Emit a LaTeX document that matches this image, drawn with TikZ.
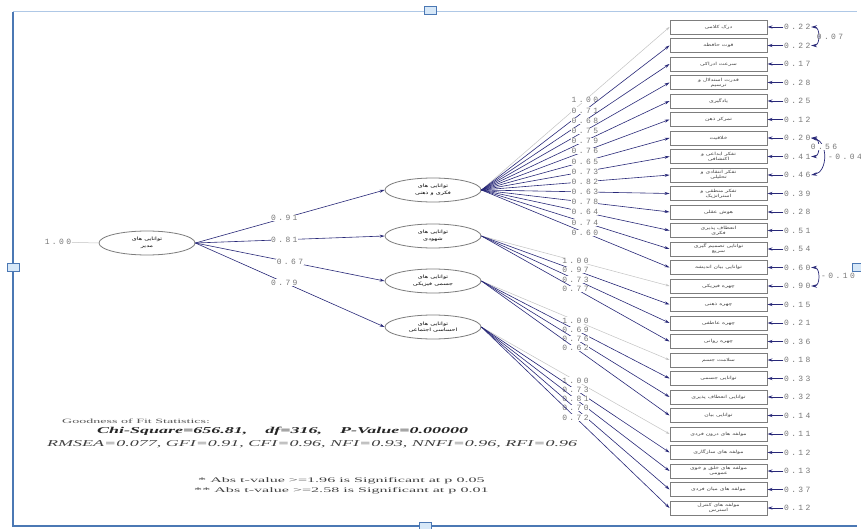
\documentclass[tikz,border=0pt]{standalone}
\usepackage{fontspec}
\setmainfont{Liberation Serif}
\newfontfamily\fa[Script=Arabic]{DejaVu Sans}
\newfontfamily\numfont[LetterSpace=30]{Liberation Mono}
\TeXXeTstate=1
\usetikzlibrary{arrows.meta,shapes.geometric}
\newcommand\rl[1]{\scalebox{1.4}[1]{\beginR#1\endR}}
\newcommand\wx[2]{\scalebox{#1}[1]{#2}}
\definecolor{navy}{RGB}{40,40,120}
\definecolor{boxgray}{RGB}{125,125,125}
\definecolor{numgray}{RGB}{120,120,120}
\definecolor{lightln}{RGB}{195,195,195}
\definecolor{frameblue}{RGB}{75,120,180}
\definecolor{framelight}{RGB}{175,200,230}
\definecolor{handlefill}{RGB}{215,232,248}
\begin{document}
\begin{tikzpicture}[x=1pt,y=-1pt,
  obs/.style={draw=boxgray,line width=0.9pt,minimum width=97pt,minimum height=14pt,inner sep=0.5pt,align=center,text=black!75,font=\fa\fontsize{4.3}{5}\selectfont},
  lat/.style={ellipse,draw=boxgray,line width=0.8pt,minimum width=96pt,minimum height=24pt,inner sep=0pt,align=center,font=\fa\fontsize{4.6}{6.5}\selectfont},
  num/.style={font=\numfont\fontsize{8}{9}\selectfont,text=numgray,inner sep=0.4pt},
  lnum/.style={num,fill=white},
  ld/.style={draw=navy,line width=0.6pt,-{Stealth[length=5pt,width=3pt]}},
  fx/.style={draw=lightln,line width=0.5pt,-{Stealth[length=4pt,width=2.5pt]}},
  ea/.style={draw=navy,line width=0.9pt,-{Stealth[length=5pt,width=3.2pt]}},
  cv/.style={draw=navy,line width=0.7pt,{Stealth[length=6pt,width=3.5pt]}-{Stealth[length=6pt,width=3.5pt]}},
  stat/.style={anchor=west,inner sep=0pt,text=black!75},
  handle/.style={draw=frameblue,fill=handlefill,line width=0.6pt,minimum width=12pt,minimum height=8pt,inner sep=0pt}]
\useasboundingbox (0,0) rectangle (861,529);
\fill[white] (0,0) rectangle (861,529);
% frame
\draw[framelight,line width=1pt] (13,12) -- (857,12);
\draw[frameblue,line width=1.5pt] (13,12) -- (13,526) -- (857,526);
\node[handle] (h1) at (13,267) {};
\node[handle] (h2) at (430,10) {};
\node[handle] (h3) at (425,526) {};
\node[handle] (h4) at (858,267) {};
% latent variables
\node[lat] (R) at (147,243) {\rl{توانایی های}\\\rl{مدیر}};
\node[lat] (L1) at (433,190) {\rl{توانایی های}\\\rl{فکری و ذهنی}};
\node[lat] (L2) at (433,236) {\rl{توانایی های}\\\rl{شهودی}};
\node[lat] (L3) at (433,281) {\rl{توانایی های}\\\rl{جسمی فیزیکی}};
\node[lat] (L4) at (433,327) {\rl{توانایی های}\\\rl{احساسی اجتماعی}};
\node[num] (one) at (58,242) {1.00};
\draw[draw=lightln,line width=0.5pt] (one) -- (R.west);
% observed boxes
\node[obs] (b1) at (718.5,27) {\rl{درک کلامی}};
\node[obs] (b2) at (718.5,45.5) {\rl{قوت حافظه}};
\node[obs] (b3) at (718.5,64) {\rl{سرعت ادراکی}};
\node[obs] (b4) at (718.5,82.5) {\rl{قدرت استدلال و}\\\rl{ترسیم}};
\node[obs] (b5) at (718.5,101) {\rl{یادگیری}};
\node[obs] (b6) at (718.5,119.5) {\rl{تمرکز ذهن}};
\node[obs] (b7) at (718.5,138) {\rl{خلاقیت}};
\node[obs] (b8) at (718.5,156.5) {\rl{تفکر ابداعی و}\\\rl{اکتشافی}};
\node[obs] (b9) at (718.5,175) {\rl{تفکر انتقادی و}\\\rl{تحلیلی}};
\node[obs] (b10) at (718.5,193.5) {\rl{تفکر منطقی و}\\\rl{استراتژیک}};
\node[obs] (b11) at (718.5,212) {\rl{هوش عقلی}};
\node[obs] (b12) at (718.5,230.5) {\rl{انعطاف پذیری}\\\rl{فکری}};
\node[obs] (b13) at (718.5,249) {\rl{توانایی تصمیم گیری}\\\rl{سریع}};
\node[obs] (b14) at (718.5,267.5) {\rl{توانایی بیان اندیشه}};
\node[obs] (b15) at (718.5,286) {\rl{چهره فیزیکی}};
\node[obs] (b16) at (718.5,304.5) {\rl{چهره ذهنی}};
\node[obs] (b17) at (718.5,323) {\rl{چهره عاطفی}};
\node[obs] (b18) at (718.5,341.5) {\rl{چهره روانی}};
\node[obs] (b19) at (718.5,360) {\rl{سلامت جسم}};
\node[obs] (b20) at (718.5,378.5) {\rl{توانایی جسمی}};
\node[obs] (b21) at (718.5,397) {\rl{توانایی انعطاف پذیری}};
\node[obs] (b22) at (718.5,415.5) {\rl{توانایی بیان}};
\node[obs] (b23) at (718.5,434) {\rl{مولفه های درون فردی}};
\node[obs] (b24) at (718.5,452.5) {\rl{مولفه های سازگاری}};
\node[obs] (b25) at (718.5,471) {\rl{مولفه های خلق و خوی}\\\rl{عمومی}};
\node[obs] (b26) at (718.5,489.5) {\rl{مولفه های میان فردی}};
\node[obs] (b27) at (718.5,508) {\rl{مولفه های کنترل}\\\rl{استرس}};
% second-order paths
\draw[ld] (R.east) -- node[lnum,pos=0.47]{0.91} (L1.west);
\draw[ld] (R.east) -- node[lnum,pos=0.47]{0.81} (L2.west);
\draw[ld] (R.east) -- node[lnum,pos=0.5]{0.67} (L3.west);
\draw[ld] (R.east) -- node[lnum,pos=0.47]{0.79} (L4.west);
% loadings L1
\draw[fx] (L1.east) -- node[lnum,pos=0.55]{1.00} (b1.west);
\draw[ld] (L1.east) -- node[lnum,pos=0.55]{0.71} (b2.west);
\draw[ld] (L1.east) -- node[lnum,pos=0.55]{0.68} (b3.west);
\draw[ld] (L1.east) -- node[lnum,pos=0.55]{0.75} (b4.west);
\draw[ld] (L1.east) -- node[lnum,pos=0.55]{0.79} (b5.west);
\draw[ld] (L1.east) -- node[lnum,pos=0.55]{0.76} (b6.west);
\draw[ld] (L1.east) -- node[lnum,pos=0.55]{0.65} (b7.west);
\draw[ld] (L1.east) -- node[lnum,pos=0.55]{0.73} (b8.west);
\draw[ld] (L1.east) -- node[lnum,pos=0.55]{0.82} (b9.west);
\draw[ld] (L1.east) -- node[lnum,pos=0.55]{0.63} (b10.west);
\draw[ld] (L1.east) -- node[lnum,pos=0.55]{0.78} (b11.west);
\draw[ld] (L1.east) -- node[lnum,pos=0.55]{0.64} (b12.west);
\draw[ld] (L1.east) -- node[lnum,pos=0.55]{0.74} (b13.west);
\draw[ld] (L1.east) -- node[lnum,pos=0.55]{0.60} (b14.west);
% loadings L2
\draw[fx] (L2.east) -- node[lnum,pos=0.5]{1.00} (b15.west);
\draw[ld] (L2.east) -- node[lnum,pos=0.5]{0.97} (b16.west);
\draw[ld] (L2.east) -- node[lnum,pos=0.5]{0.73} (b17.west);
\draw[ld] (L2.east) -- node[lnum,pos=0.5]{0.77} (b18.west);
% loadings L3
\draw[fx] (L3.east) -- node[lnum,pos=0.5]{1.00} (b19.west);
\draw[ld] (L3.east) -- node[lnum,pos=0.5]{0.69} (b20.west);
\draw[ld] (L3.east) -- node[lnum,pos=0.5]{0.76} (b21.west);
\draw[ld] (L3.east) -- node[lnum,pos=0.5]{0.62} (b22.west);
% loadings L4
\draw[fx] (L4.east) -- node[lnum,pos=0.5]{1.00} (b23.west);
\draw[ld] (L4.east) -- node[lnum,pos=0.5]{0.73} (b24.west);
\draw[ld] (L4.east) -- node[lnum,pos=0.5]{0.81} (b25.west);
\draw[ld] (L4.east) -- node[lnum,pos=0.5]{0.70} (b26.west);
\draw[ld] (L4.east) -- node[lnum,pos=0.5]{0.72} (b27.west);
% error variances
\foreach \i/\v in {1/0.22,2/0.22,3/0.17,4/0.28,5/0.25,6/0.12,7/0.20,8/0.41,9/0.46,10/0.39,11/0.28,12/0.51,13/0.54,14/0.60,15/0.90,16/0.15,17/0.21,18/0.36,19/0.18,20/0.33,21/0.32,22/0.14,23/0.11,24/0.12,25/0.13,26/0.37,27/0.12}{
  \path (b\i.east) ++(16,0) node[num,anchor=west] (e\i) {\v};
  \draw[ea] (e\i.west) -- (b\i.east);
}
% error covariances
\draw[cv] (e1.east) to[out=0,in=0,looseness=1.3] (e2.east);
\node[num] (c12) at (830,37) {0.07};
\draw[cv] (e7.east) to[out=0,in=0,looseness=1.3] (e8.east);
\draw[cv] (e7.east) to[out=-10,in=10,looseness=1.2] (e9.east);
\node[lnum] (c78) at (824,147) {0.56};
\node[num] (c79) at (845,157) {-0.04};
\draw[cv] (e14.east) to[out=0,in=0,looseness=1.3] (e15.east);
\node[num] (c1415) at (838,276) {-0.10};
% statistics
\node[stat,text=black!65,font=\fontsize{6.5}{7}\selectfont] (gof) at (62,421) {\wx{2.16}{Goodness of Fit Statistics:}};
\node[stat,text=black!85,font=\bfseries\itshape\fontsize{9}{10}\selectfont] (chi) at (97,431) {\wx{2.0}{Chi-Square=656.81,\quad df=316,\quad P-Value=0.00000}};
\node[stat,font=\itshape\fontsize{9}{10}\selectfont] (rm) at (47,444) {\wx{2.0}{RMSEA=0.077, GFI=0.91, CFI=0.96, NFI=0.93, NNFI=0.96, RFI=0.96}};
\node[stat,font=\fontsize{7}{8}\selectfont] (s1) at (198,481) {\wx{2.3}{* Abs t-value >=1.96 is Significant at p 0.05}};
\node[stat,font=\fontsize{7}{8}\selectfont] (s2) at (194,491) {\wx{2.3}{** Abs t-value >=2.58 is Significant at p 0.01}};
\end{tikzpicture}
\end{document}
